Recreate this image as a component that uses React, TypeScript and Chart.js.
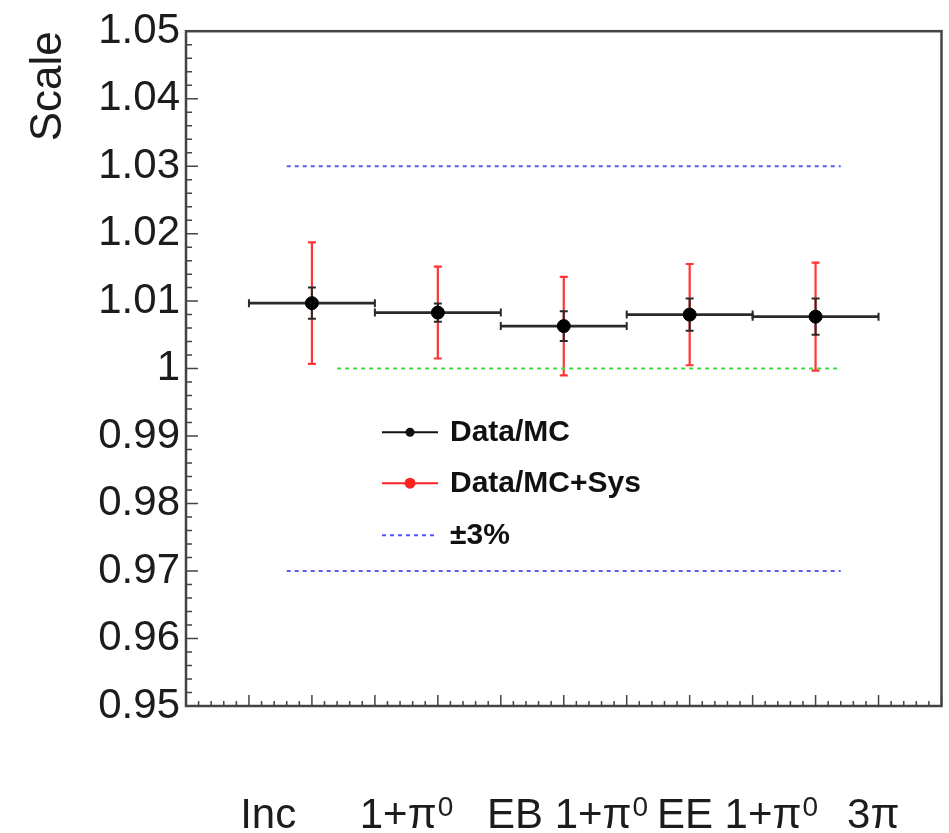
import { useEffect, useRef } from "react";
import { Chart, registerables } from "chart.js";

Chart.register(...registerables);

// ---- data ----
const CATEGORY_X = [1, 2, 3, 4, 5];
const BIN_HALF_WIDTH = [0.5, 0.5, 0.5, 0.5, 0.5];
const SCALE_VALUES = [1.0097, 1.0083, 1.0063, 1.008, 1.0077];
const STAT_ERRORS = [0.0023, 0.00135, 0.0022, 0.0024, 0.0027];
const SYS_ERRORS = [0.009, 0.0068, 0.0073, 0.0075, 0.008];

const BAND_UPPER = 1.03;
const BAND_LOWER = 0.97;
const BAND_X = [0.8, 5.2];
const UNITY_VALUE = 1.0;
const UNITY_X = [1.2, 5.2];

const X_MIN = 0;
const X_MAX = 6;
const Y_MIN = 0.95;
const Y_MAX = 1.05;
const Y_STEP = 0.01;

const X_LABELS = ["Inc", "1+π", "EB 1+π", "EE 1+π", "3π"];
const X_LABEL_SUPERSCRIPTS = ["", "0", "0", "0", ""];
const X_LABEL_START = [0.43, 1.38, 2.39, 3.74, 5.25];

const LEGEND_LABELS = ["Data/MC", "Data/MC+Sys", "±3%"];

const FONT = '"Liberation Sans", Arial, Helvetica, sans-serif';

const errorBarsPlugin = {
  id: "errorBars",
  beforeDatasetsDraw(chart: any) {
    const ctx = chart.ctx;
    const xs = chart.scales.x;
    const ys = chart.scales.y;
    ctx.save();
    // systematic (red)
    ctx.strokeStyle = "#ff3535";
    ctx.lineWidth = 2.2;
    for (let i = 0; i < SCALE_VALUES.length; i++) {
      const px = xs.getPixelForValue(CATEGORY_X[i]);
      const yt = ys.getPixelForValue(SCALE_VALUES[i] + SYS_ERRORS[i]);
      const yb = ys.getPixelForValue(SCALE_VALUES[i] - SYS_ERRORS[i]);
      ctx.beginPath();
      ctx.moveTo(px, yt);
      ctx.lineTo(px, yb);
      ctx.moveTo(px - 4, yt);
      ctx.lineTo(px + 4, yt);
      ctx.moveTo(px - 4, yb);
      ctx.lineTo(px + 4, yb);
      ctx.stroke();
    }
    // statistical (black)
    ctx.strokeStyle = "#2a2a2a";
    for (let i = 0; i < SCALE_VALUES.length; i++) {
      const px = xs.getPixelForValue(CATEGORY_X[i]);
      const py = ys.getPixelForValue(SCALE_VALUES[i]);
      const xl = xs.getPixelForValue(CATEGORY_X[i] - BIN_HALF_WIDTH[i]);
      const xr = xs.getPixelForValue(CATEGORY_X[i] + BIN_HALF_WIDTH[i]);
      const yt = ys.getPixelForValue(SCALE_VALUES[i] + STAT_ERRORS[i]);
      const yb = ys.getPixelForValue(SCALE_VALUES[i] - STAT_ERRORS[i]);
      ctx.lineWidth = 2.8;
      ctx.beginPath();
      ctx.moveTo(xl, py);
      ctx.lineTo(xr, py);
      ctx.stroke();
      ctx.lineWidth = 2;
      ctx.beginPath();
      ctx.moveTo(xl, py - 4);
      ctx.lineTo(xl, py + 4);
      ctx.moveTo(xr, py - 4);
      ctx.lineTo(xr, py + 4);
      ctx.moveTo(px, yt);
      ctx.lineTo(px, yb);
      ctx.moveTo(px - 4, yt);
      ctx.lineTo(px + 4, yt);
      ctx.moveTo(px - 4, yb);
      ctx.lineTo(px + 4, yb);
      ctx.stroke();
    }
    ctx.restore();
  },
};

const framePlugin = {
  id: "rootFrame",
  afterDraw(chart: any) {
    const ctx = chart.ctx;
    const { left, right, top, bottom } = chart.chartArea;
    const xs = chart.scales.x;
    const ys = chart.scales.y;
    ctx.save();
    ctx.strokeStyle = "#444";
    ctx.lineWidth = 1.5;
    ctx.beginPath();
    const yMinor = Y_STEP / 5;
    const nY = Math.round((Y_MAX - Y_MIN) / yMinor);
    for (let k = 0; k <= nY; k++) {
      const py = ys.getPixelForValue(Y_MIN + k * yMinor);
      const len = k % 5 === 0 ? 12 : 6;
      ctx.moveTo(left, py);
      ctx.lineTo(left + len, py);
    }
    const xMinor = 0.1;
    const nX = Math.round((X_MAX - X_MIN) / xMinor);
    for (let k = 0; k <= nX; k++) {
      const px = xs.getPixelForValue(X_MIN + k * xMinor);
      const len = k % 5 === 0 ? 11 : 5;
      ctx.moveTo(px, bottom);
      ctx.lineTo(px, bottom - len);
    }
    ctx.stroke();
    ctx.lineWidth = 2.5;
    ctx.strokeRect(left, top, right - left, bottom - top);

    // category labels
    ctx.fillStyle = "#1c1c1c";
    ctx.textBaseline = "alphabetic";
    ctx.textAlign = "left";
    const base = bottom + 122;
    for (let i = 0; i < X_LABELS.length; i++) {
      let px = xs.getPixelForValue(X_LABEL_START[i]);
      ctx.font = `42px ${FONT}`;
      ctx.fillText(X_LABELS[i], px, base);
      px += ctx.measureText(X_LABELS[i]).width;
      if (X_LABEL_SUPERSCRIPTS[i]) {
        ctx.font = `28px ${FONT}`;
        ctx.fillText(X_LABEL_SUPERSCRIPTS[i], px + 1, base - 12);
      }
    }

    // legend
    const lx0 = left + 196;
    const lx1 = left + 252;
    const tx = left + 264;
    const rows = [top + 401, top + 452, top + 504];
    const colors = ["#111", "#ff2020", "#5555ff"];
    ctx.font = `bold 30px ${FONT}`;
    ctx.textBaseline = "middle";
    for (let r = 0; r < 3; r++) {
      const y = rows[r];
      ctx.strokeStyle = colors[r];
      ctx.lineWidth = 2;
      if (r === 2) ctx.setLineDash([4, 4]);
      ctx.beginPath();
      ctx.moveTo(lx0, y);
      ctx.lineTo(lx1, y);
      ctx.stroke();
      ctx.setLineDash([]);
      if (r < 2) {
        ctx.fillStyle = colors[r];
        ctx.beginPath();
        ctx.arc((lx0 + lx1) / 2, y, r === 0 ? 4.5 : 5.5, 0, Math.PI * 2);
        ctx.fill();
      }
      ctx.fillStyle = "#111";
      ctx.fillText(LEGEND_LABELS[r], tx, y + 1);
    }
    ctx.restore();
  },
};

export default function App() {
  const ref = useRef<HTMLCanvasElement | null>(null);

  useEffect(() => {
    if (!ref.current) return;
    const points = CATEGORY_X.map((x, i) => ({ x, y: SCALE_VALUES[i] }));
    const chart = new Chart(ref.current, {
      type: "scatter",
      data: {
        datasets: [
          {
            label: "Data/MC",
            data: points,
            pointRadius: 6.5,
            pointBackgroundColor: "#000",
            pointBorderColor: "#000",
            showLine: false,
            order: 0,
          },
          {
            label: "Data/MC+Sys",
            data: points,
            pointRadius: 0,
            pointBackgroundColor: "#ff2020",
            showLine: false,
            order: 1,
          },
          {
            label: "+3%",
            data: BAND_X.map((x) => ({ x, y: BAND_UPPER })),
            showLine: true,
            borderColor: "#5c5cff",
            borderWidth: 2,
            borderDash: [4, 4],
            pointRadius: 0,
            order: 2,
          },
          {
            label: "-3%",
            data: BAND_X.map((x) => ({ x, y: BAND_LOWER })),
            showLine: true,
            borderColor: "#5c5cff",
            borderWidth: 2,
            borderDash: [4, 4],
            pointRadius: 0,
            order: 2,
          },
          {
            label: "unity",
            data: UNITY_X.map((x) => ({ x, y: UNITY_VALUE })),
            showLine: true,
            borderColor: "#3ee03e",
            borderWidth: 2,
            borderDash: [4, 4],
            pointRadius: 0,
            order: 2,
          },
        ],
      },
      options: {
        animation: false,
        responsive: true,
        maintainAspectRatio: false,
        layout: { padding: { left: 0, top: 28, right: 7, bottom: 0 } },
        plugins: { legend: { display: false }, tooltip: { enabled: false } },
        scales: {
          x: {
            type: "linear",
            min: X_MIN,
            max: X_MAX,
            grid: { display: false, drawTicks: false },
            border: { display: false },
            ticks: { display: false },
            afterFit: (s: any) => {
              s.height = 127;
            },
          },
          y: {
            type: "linear",
            min: Y_MIN,
            max: Y_MAX,
            grid: { display: false, drawTicks: false },
            border: { display: false },
            ticks: {
              stepSize: Y_STEP,
              padding: 6,
              color: "#1c1c1c",
              font: { family: FONT, size: 42 },
              callback: (v: any) => String(parseFloat(Number(v).toFixed(2))),
            },
            title: {
              display: true,
              text: "Scale",
              align: "end",
              color: "#1c1c1c",
              font: { family: FONT, size: 44 },
              padding: { top: 22, bottom: 0 },
            },
            afterFit: (s: any) => {
              s.width = 186;
            },
          },
        },
      },
      plugins: [errorBarsPlugin, framePlugin],
    });
    return () => chart.destroy();
  }, []);

  return (
    <div style={{ position: "absolute", left: 0, top: 0, width: 949, height: 833 }}>
      <canvas ref={ref} />
    </div>
  );
}
